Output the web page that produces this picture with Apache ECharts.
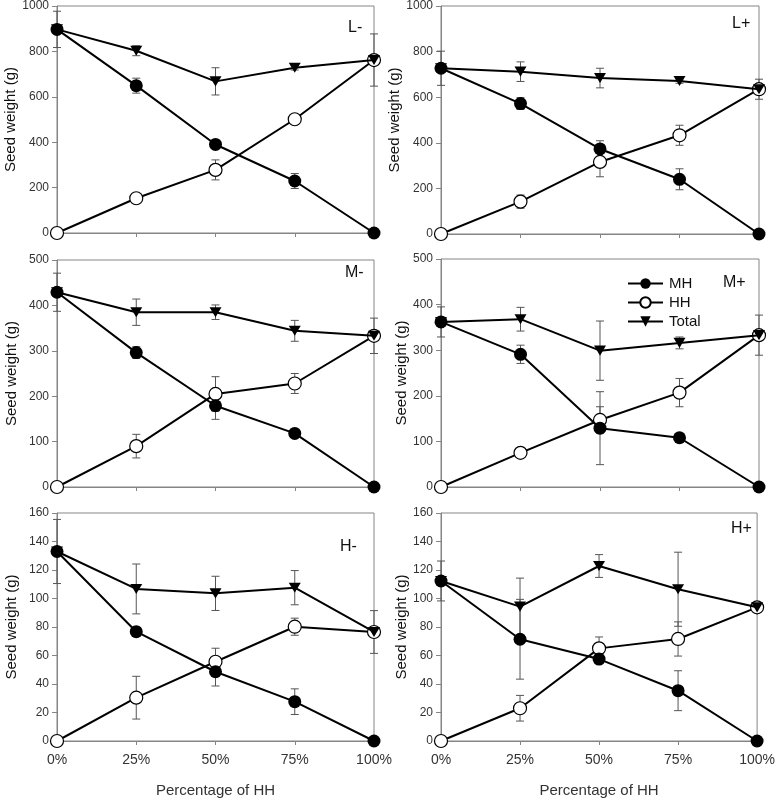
<!DOCTYPE html>
<html>
<head>
<meta charset="utf-8">
<script src="https://cdn.jsdelivr.net/npm/echarts@6/dist/echarts.min.js"></script>
<style>
html,body{margin:0;padding:0;background:#fff;}
#chart{width:778px;height:799px;}
</style>
</head>
<body>
<div id="chart"></div>
<script>
// ---- data ----
const categories = ['0%', '25%', '50%', '75%', '100%'];
const panelNames = ['L-', 'L+', 'M-', 'M+', 'H-', 'H+'];
const seriesNames = ['MH', 'HH', 'Total'];

const L_minus_MH = [897, 649, 390, 229, 0];
const L_minus_HH = [0, 153, 278, 501, 762];
const L_minus_Total = [897, 803, 668, 728, 762];
const L_minus_MH_err = [80, 33, 15, 33, 0];
const L_minus_HH_err = [0, 15, 44, 12, 0];
const L_minus_Total_err = [0, 22, 60, 10, 115];

const L_plus_MH = [727, 572, 373, 240, 0];
const L_plus_HH = [0, 142, 316, 433, 635];
const L_plus_Total = [727, 712, 684, 671, 635];
const L_plus_MH_err = [75, 26, 36, 46, 0];
const L_plus_HH_err = [0, 29, 65, 44, 0];
const L_plus_Total_err = [0, 43, 43, 10, 44];

const M_minus_MH = [429, 296, 179, 118, 0];
const M_minus_HH = [0, 90, 205, 228, 333];
const M_minus_Total = [429, 385, 385, 344, 333];
const M_minus_MH_err = [42, 13, 30, 8, 0];
const M_minus_HH_err = [0, 26, 38, 22, 0];
const M_minus_Total_err = [0, 29, 16, 23, 39];

const M_plus_MH = [362, 291, 129, 108, 0];
const M_plus_HH = [0, 75, 147, 207, 333];
const M_plus_Total = [362, 368, 299, 316, 333];
const M_plus_MH_err = [33, 20, 80, 10, 0];
const M_plus_HH_err = [0, 4, 29, 31, 0];
const M_plus_Total_err = [0, 26, 65, 13, 44];

const H_minus_MH = [133, 76.7, 48.6, 27.6, 0];
const H_minus_HH = [0, 30.4, 55.6, 80.2, 76.5];
const H_minus_Total = [133, 106.7, 103.6, 107.6, 76.5];
const H_minus_MH_err = [22.5, 3, 10, 9, 0];
const H_minus_HH_err = [0, 15, 9.5, 6, 0];
const H_minus_Total_err = [0, 17.5, 12, 12, 15];

const H_plus_MH = [112.3, 71.4, 57.5, 35.3, 0];
const H_plus_HH = [0, 23, 65, 71.6, 93.8];
const H_plus_Total = [112.3, 94.3, 122.8, 106.5, 93.8];
const H_plus_MH_err = [14, 28, 2, 14, 0];
const H_plus_HH_err = [0, 9, 8, 12, 0];
const H_plus_Total_err = [0, 20, 8, 26, 3];

const yMax = [1000, 1000, 500, 500, 160, 160];
const yInterval = [200, 200, 100, 100, 20, 20];

const xAxisTitle = 'Percentage of HH';
const yAxisTitle = 'Seed weight (g)';

// ---- assemble ----
const panels = [
  {MH: L_minus_MH, HH: L_minus_HH, Total: L_minus_Total, MHe: L_minus_MH_err, HHe: L_minus_HH_err, Te: L_minus_Total_err},
  {MH: L_plus_MH, HH: L_plus_HH, Total: L_plus_Total, MHe: L_plus_MH_err, HHe: L_plus_HH_err, Te: L_plus_Total_err},
  {MH: M_minus_MH, HH: M_minus_HH, Total: M_minus_Total, MHe: M_minus_MH_err, HHe: M_minus_HH_err, Te: M_minus_Total_err},
  {MH: M_plus_MH, HH: M_plus_HH, Total: M_plus_Total, MHe: M_plus_MH_err, HHe: M_plus_HH_err, Te: M_plus_Total_err},
  {MH: H_minus_MH, HH: H_minus_HH, Total: H_minus_Total, MHe: H_minus_MH_err, HHe: H_minus_HH_err, Te: H_minus_Total_err},
  {MH: H_plus_MH, HH: H_plus_HH, Total: H_plus_Total, MHe: H_plus_MH_err, HHe: H_plus_HH_err, Te: H_plus_Total_err}
];

const gridPos = [
  {left: 57, top: 6, width: 317, height: 227},
  {left: 441, top: 6, width: 318, height: 228},
  {left: 57, top: 260, width: 317, height: 227},
  {left: 441, top: 259, width: 318, height: 228},
  {left: 57, top: 513, width: 317, height: 228},
  {left: 441, top: 513, width: 318, height: 228}
];
const labelPos = [
  {left: 348, top: 20}, {left: 732, top: 16},
  {left: 345, top: 265}, {left: 723, top: 275},
  {left: 340, top: 539}, {left: 731, top: 521}
];

const axisGray = '#858585';
const textColor = '#333';
const font = 'Liberation Sans, Arial, sans-serif';
const downTri = 'path://M0,0 L12,0 L6,11 Z';

const grids = [], xAxes = [], yAxes = [], series = [], titles = [];

function errItem(vals, errs) {
  return vals.map((v, i) => [i, v, errs[i]]);
}

panels.forEach((p, k) => {
  const bottomRow = k >= 4;
  grids.push(Object.assign({show: true, borderColor: axisGray, borderWidth: 1, containLabel: false}, gridPos[k]));
  xAxes.push({
    type: 'category', gridIndex: k, data: categories, boundaryGap: false,
    axisLine: {show: true, lineStyle: {color: axisGray, width: 1}},
    axisTick: {show: true, length: 4, lineStyle: {color: axisGray}},
    axisLabel: {show: bottomRow, fontSize: 14, color: textColor, margin: 12, fontFamily: font},
    splitLine: {show: false},
    name: bottomRow ? xAxisTitle : '', nameLocation: 'middle', nameGap: 42,
    nameTextStyle: {fontSize: 15, color: textColor, fontFamily: font}
  });
  yAxes.push({
    type: 'value', gridIndex: k, min: 0, max: yMax[k], interval: yInterval[k],
    axisLine: {show: true, lineStyle: {color: axisGray, width: 1}},
    axisTick: {show: true, length: 5, lineStyle: {color: axisGray}},
    axisLabel: {fontSize: 12, color: textColor, margin: 8, fontFamily: font, formatter: v => String(v)},
    splitLine: {show: false},
    name: yAxisTitle, nameLocation: 'middle', nameGap: k % 2 === 0 ? 38 : 31,
    nameTextStyle: {fontSize: 15, color: '#111', fontFamily: font}
  });
  titles.push(Object.assign({text: panelNames[k], textStyle: {fontSize: 16, fontWeight: 'normal', color: '#111', fontFamily: font}, padding: 0}, labelPos[k]));

  // error bars
  [[p.HH, p.HHe], [p.Total, p.Te], [p.MH, p.MHe]].forEach(([vals, errs]) => {
    series.push({
      type: 'custom', xAxisIndex: k, yAxisIndex: k, z: 1, silent: true,
      data: errItem(vals, errs),
      encode: {x: 0, y: 1},
      renderItem: function (params, api) {
        const x = api.value(0), y = api.value(1), e = api.value(2);
        if (!e) return null;
        const t = api.coord([x, y + e]);
        const b = api.coord([x, y - e]);
        const hw = 4;
        const st = {stroke: '#555', lineWidth: 1};
        return {type: 'group', children: [
          {type: 'line', shape: {x1: t[0], y1: t[1], x2: b[0], y2: b[1]}, style: st},
          {type: 'line', shape: {x1: t[0] - hw, y1: t[1], x2: t[0] + hw, y2: t[1]}, style: st},
          {type: 'line', shape: {x1: b[0] - hw, y1: b[1], x2: b[0] + hw, y2: b[1]}, style: st}
        ]};
      }
    });
  });

  series.push({
    name: 'HH', type: 'line', xAxisIndex: k, yAxisIndex: k, z: 3, data: p.HH,
    symbol: 'circle', symbolSize: 13,
    lineStyle: {color: '#000', width: 2},
    itemStyle: {color: '#fff', borderColor: '#000', borderWidth: 1.2},
    emphasis: {disabled: true}, animation: false
  });
  series.push({
    name: 'Total', type: 'line', xAxisIndex: k, yAxisIndex: k, z: 4, data: p.Total,
    symbol: downTri, symbolSize: [12, 11], symbolKeepAspect: true,
    lineStyle: {color: '#000', width: 2},
    itemStyle: {color: '#000'},
    emphasis: {disabled: true}, animation: false
  });
  series.push({
    name: 'MH', type: 'line', xAxisIndex: k, yAxisIndex: k, z: 5, data: p.MH,
    symbol: 'circle', symbolSize: 13,
    lineStyle: {color: '#000', width: 2},
    itemStyle: {color: '#000'},
    emphasis: {disabled: true}, animation: false
  });
});

const chart = echarts.init(document.getElementById('chart'), null, {renderer: 'canvas'});
chart.setOption({
  animation: false,
  backgroundColor: '#fff',
  title: titles,
  grid: grids,
  xAxis: xAxes,
  yAxis: yAxes,
  legend: {
    data: seriesNames, left: 627, top: 276, orient: 'vertical', padding: 0,
    itemWidth: 35, itemHeight: 13, itemGap: 4,
    textStyle: {fontSize: 15, color: '#111', fontFamily: font, padding: [0, 0, 0, 1]},
    selectedMode: false
  },
  series: series
});
</script>
</body>
</html>
